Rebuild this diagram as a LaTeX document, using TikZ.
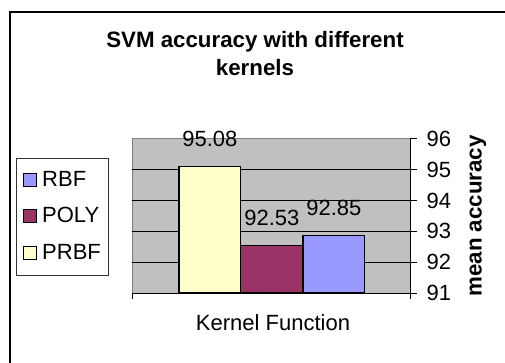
\documentclass[tikz,border=0pt]{standalone}
\usepackage{fontspec}
\setmainfont{Liberation Sans}
\definecolor{plotgray}{HTML}{C0C0C0}
\definecolor{edgegray}{HTML}{808080}
\definecolor{prbfcol}{HTML}{FFFFCC}
\definecolor{polycol}{HTML}{993366}
\definecolor{rbfcol}{HTML}{9999FF}
\tikzset{
  txt/.style={font=\fontsize{22}{28}\selectfont, inner sep=0pt},
  bold/.style={font=\bfseries\fontsize{22.3}{28}\selectfont, inner sep=0pt},
  bar/.style={draw=black, line width=1.4pt, inner sep=0pt, anchor=south west},
  swatch/.style={draw=black, line width=1.2pt, minimum size=13pt, inner sep=0pt},
  grid line/.style={black, line width=0.9pt},
  axis line/.style={black, line width=1pt},
}
\begin{document}
\begin{tikzpicture}[x=1pt,y=-1pt]
\useasboundingbox (0,0) rectangle (505,363);
% outer frame
\draw[line width=1.3pt] (10,363) -- (10,12) -- (505,12);
% title
\node[bold, align=center] (title) at (255,54) {SVM accuracy with different\\[0pt]kernels};
% plot area
\fill[plotgray] (132,139) rectangle (410,293);
\draw[edgegray, line width=1pt] (132,293) -- (132,139) -- (410,139);
\foreach \v in {92,93,94,95}{
  \draw[grid line] (132,{293-(\v-91)*30.8}) -- (410,{293-(\v-91)*30.8});
}
% bars
\node[bar, fill=prbfcol, minimum width=61.7pt, minimum height=125.7pt] (prbf) at (178.3,293) {};
\node[bar, fill=polycol, minimum width=62.3pt, minimum height=47.1pt] (poly) at (240,293) {};
\node[bar, fill=rbfcol, minimum width=61.7pt, minimum height=57pt] (rbf) at (302.3,293) {};
% value labels
\node[txt, yshift=27pt] (lprbf) at (prbf.north) {95.08};
\node[txt, yshift=27pt] (lpoly) at (poly.north) {92.53};
\node[txt, yshift=27pt] (lrbf) at (rbf.north) {92.85};
% axes
\draw[axis line] (132,293) -- (410,293);
\draw[axis line] (132,293) -- (132,299);
\draw[axis line] (410,139) -- (410,299);
\foreach \v in {91,...,96}{
  \draw[axis line] (410,{293-(\v-91)*30.8}) -- (417,{293-(\v-91)*30.8});
  \node[txt, anchor=west] (t\v) at (426.5,{293-(\v-91)*30.8}) {\v};
}
\node[bold, rotate=90] (ytitle) at (478,216) {mean accuracy};
\node[txt] (xtitle) at (273,323) {Kernel Function};
% legend
\node[draw=black!80, line width=1pt, minimum width=92pt, minimum height=116pt, inner sep=0pt] (legend) at (62,217) {};
\node[swatch, fill=rbfcol] (srbf) at (30,180) {};
\node[swatch, fill=polycol] (spoly) at (30,216) {};
\node[swatch, fill=prbfcol] (sprbf) at (30,253) {};
\node[txt, anchor=west] (trbf) at (42,179) {RBF};
\node[txt, anchor=west] (tpoly) at (42,215) {POLY};
\node[txt, anchor=west] (tprbf) at (42,252) {PRBF};
\end{tikzpicture}
\end{document}
